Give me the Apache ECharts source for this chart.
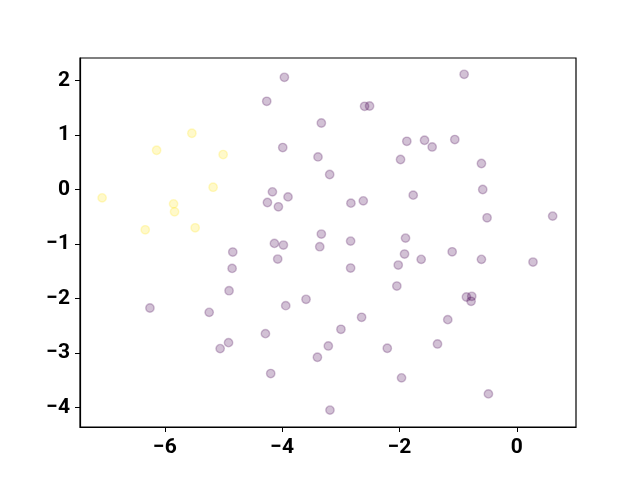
<!DOCTYPE html>
<html><head><meta charset="utf-8">
<script src="https://cdn.jsdelivr.net/npm/echarts@6/dist/echarts.min.js"></script>
<style>html,body{margin:0;padding:0;background:#fff}#c{width:640px;height:480px}</style>
</head><body><div id="c"></div>
<script>
const xTicks = [-6, -4, -2, 0];
const yTicks = [-4, -3, -2, -1, 0, 1, 2];
const yellowX = [-7.07, -6.141, -5.540, -5.007, -5.178, -5.852, -5.835, -5.484, -6.335];
const yellowY = [-0.154, 0.720, 1.032, 0.641, 0.042, -0.264, -0.410, -0.704, -0.740];
const purpleX = [-3.963, -4.264, -3.333, -3.991, -3.390, -3.191, -4.167, -3.901, -4.252, -4.065,
  -3.333, -4.133, -3.980, -3.36, -4.843, -0.899, -2.596, -2.511, -1.876, -1.574,
  -1.444, -1.058, -1.983, -0.604, -0.582, -1.767, -2.829, -2.618, -0.508, 0.610,
  -2.834, -1.898, -1.915, -2.022, -1.631, -1.103, -0.604, 0.275, -2.834, -2.046,
  -0.860, -0.769, -0.780, -2.647, -1.178, -2.999, -3.214, -3.40, -2.209, -1.353,
  -1.966, -0.485, -3.186, -4.854, -4.906, -4.077, -3.940, -3.594, -6.255, -5.245,
  -4.286, -4.915, -5.058, -4.196];
const purpleY = [2.059, 1.619, 1.221, 0.770, 0.598, 0.275, -0.044, -0.136, -0.239, -0.318,
  -0.819, -0.990, -1.021, -1.05, -1.149, 2.114, 1.527, 1.533, 0.885, 0.904,
  0.781, 0.917, 0.550, 0.477, 0.0, -0.104, -0.251, -0.209, -0.520, -0.489,
  -0.948, -0.893, -1.186, -1.388, -1.283, -1.144, -1.283, -1.333, -1.443, -1.773,
  -1.974, -1.962, -2.053, -2.347, -2.390, -2.567, -2.873, -3.080, -2.915, -2.836,
  -3.459, -3.753, -4.051, -1.449, -1.858, -1.278, -2.133, -2.017, -2.176, -2.256,
  -2.647, -2.812, -2.922, -3.380];

const zip = (a, b) => a.map((v, i) => [v, b[i]]);
const fmt = v => (v < 0 ? '\u2212' + Math.abs(v) : String(v));
const labelStyle = { color: '#000', fontFamily: 'Roboto', fontWeight: 'bold', fontSize: 21, margin: 10, formatter: fmt };

const chart = echarts.init(document.getElementById('c'), null, { renderer: 'canvas' });
chart.setOption({
  animation: false,
  backgroundColor: '#fff',
  grid: { left: 80, right: 64, top: 58, bottom: 53, show: true, borderColor: '#000', borderWidth: 1.2, backgroundColor: 'transparent' },
  xAxis: {
    type: 'value', min: -7.447, max: 1.008,
    splitLine: { show: false },
    axisLine: { show: true, onZero: false, lineStyle: { color: '#000', width: 1.2 } },
    axisTick: { show: true, inside: false, length: 5, lineStyle: { color: '#000', width: 1 }, customValues: xTicks },
    axisLabel: Object.assign({ customValues: xTicks }, labelStyle)
  },
  yAxis: {
    type: 'value', min: -4.361, max: 2.414,
    splitLine: { show: false },
    axisLine: { show: true, onZero: false, lineStyle: { color: '#000', width: 1.2 } },
    axisTick: { show: true, inside: false, length: 5, lineStyle: { color: '#000', width: 1 }, customValues: yTicks },
    axisLabel: Object.assign({ customValues: yTicks }, labelStyle)
  },
  series: [
    {
      type: 'scatter', data: zip(purpleX, purpleY), symbolSize: 8.4,
      itemStyle: { color: 'rgba(68,1,84,0.3)', borderColor: 'rgba(68,1,84,0.3)', borderWidth: 1.4 }
    },
    {
      type: 'scatter', data: zip(yellowX, yellowY), symbolSize: 8.4,
      itemStyle: { color: 'rgba(253,231,37,0.3)', borderColor: 'rgba(253,231,37,0.3)', borderWidth: 1.4 }
    }
  ]
});
</script></body></html>
